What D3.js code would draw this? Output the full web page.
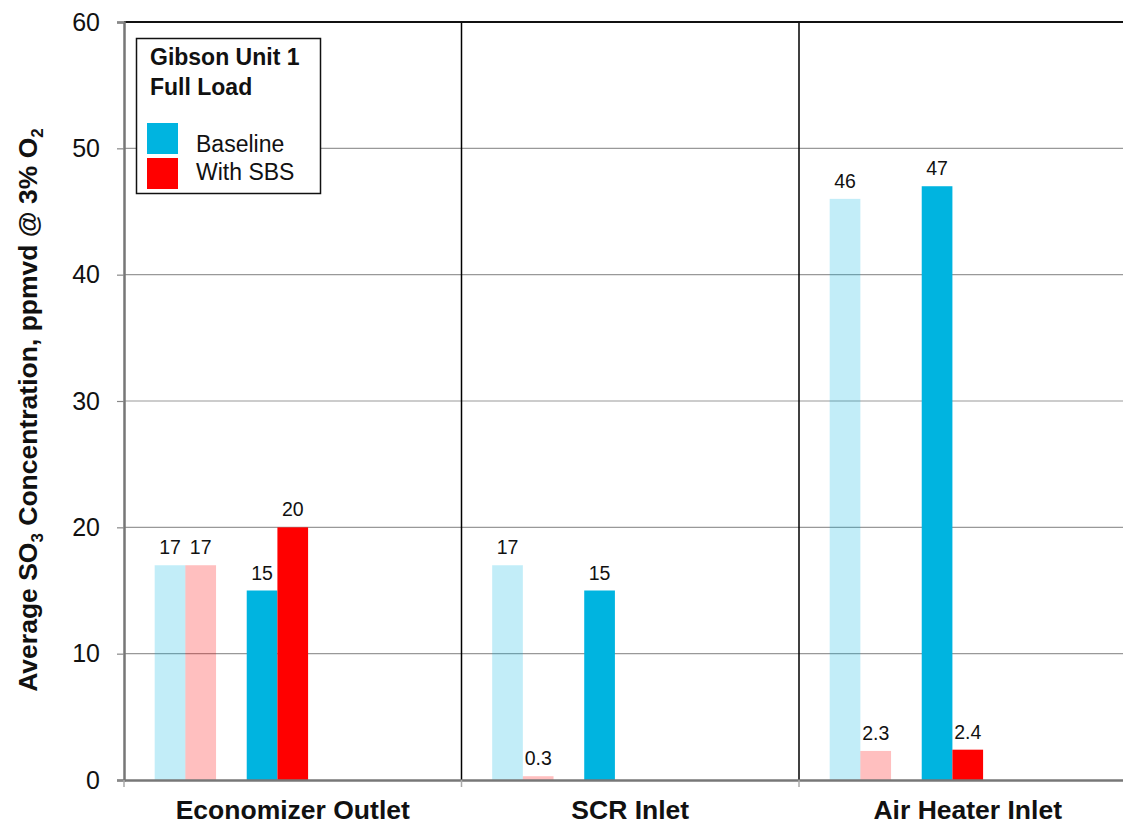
<!DOCTYPE html>
<html><head><meta charset="utf-8">
<script src="https://cdn.jsdelivr.net/npm/d3@7"></script>
<style>body{margin:0;background:#fff}svg{display:block}text{font-family:Arial,"Liberation Sans",sans-serif}</style>
</head><body>
<svg id="c" width="1123" height="825"></svg>
<script>
const categories = ["Economizer Outlet", "SCR Inlet", "Air Heater Inlet"];
const baselinePrev = [17, 17, 46];
const sbsPrev = [17, 0.3, 2.3];
const baseline = [15, 15, 47];
const withSBS = [20, null, 2.4];
const yTicks = [0, 10, 20, 30, 40, 50, 60];
const legendTitle = ["Gibson Unit 1", "Full Load"];
const legendItems = ["Baseline", "With SBS"];

const BLUE = "#00B4E0", RED = "#FF0000";
const series = [
  {key: "bp", values: baselinePrev, color: BLUE, op: 0.24},
  {key: "sp", values: sbsPrev, color: RED, op: 0.25},
  {key: "gap", values: [null, null, null]},
  {key: "b", values: baseline, color: BLUE, op: 1},
  {key: "s", values: withSBS, color: RED, op: 1}
];

const svg = d3.select("#c");
const L = 124, T = 22, B = 780, catW = 337.5, R = L + catW * 3;

const x0 = d3.scaleBand().domain(categories).range([L, R]).padding(0);
const x1 = d3.scaleBand().domain(series.map(s => s.key)).range([catW / 11, catW * 6 / 11]).padding(0);
const y = d3.scaleLinear().domain([0, 60]).range([B, T]);

// gridlines
svg.append("g").selectAll("line").data(yTicks.filter(t => t > 0 && t < 60)).join("line")
  .attr("x1", L).attr("x2", R).attr("y1", d => y(d)).attr("y2", d => y(d))
  .attr("stroke", "#999").attr("stroke-width", 1.2);

// bars
const g = svg.append("g");
series.filter(s => s.color).forEach(s => {
  categories.forEach((c, i) => {
    const v = s.values[i];
    if (v == null) return;
    const bx = x0(c) + x1(s.key);
    g.append("rect").attr("x", bx).attr("width", x1.bandwidth())
      .attr("y", y(v)).attr("height", y(0) - y(v))
      .attr("fill", s.color).attr("fill-opacity", s.op);
    g.append("text").attr("x", bx + x1.bandwidth() / 2).attr("y", y(v) - 11)
      .attr("text-anchor", "middle").attr("font-size", 19.5).attr("fill", "#111").text(v);
  });
});

// category dividers
svg.append("g").selectAll("line").data(categories.slice(1)).join("line")
  .attr("x1", d => x0(d)).attr("x2", d => x0(d)).attr("y1", T).attr("y2", B)
  .attr("stroke", "#000").attr("stroke-width", 1.5);

// top border
svg.append("line").attr("x1", L).attr("x2", R).attr("y1", T).attr("y2", T)
  .attr("stroke", "#111").attr("stroke-width", 2);

// y axis
const yAxis = d3.axisLeft(y).tickValues(yTicks).tickSize(7).tickPadding(17);
const ya = svg.append("g").attr("transform", `translate(${L},0)`).call(yAxis);
ya.select(".domain").attr("stroke", "#777").attr("stroke-width", 2.5);
ya.selectAll(".tick line").attr("stroke", "#888").attr("stroke-width", 1.2);
ya.selectAll(".tick text").attr("font-size", 25).attr("fill", "#111").attr("font-family", "Arial, Liberation Sans, sans-serif");

// x axis
const xa = svg.append("g").attr("transform", `translate(0,${B})`)
  .call(d3.axisBottom(x0).tickSize(0).tickPadding(0).tickFormat(""));
xa.select(".domain").attr("stroke", "#777").attr("stroke-width", 2.5);
svg.append("g").selectAll("line").data(categories.map(c => x0(c))).join("line")
  .attr("x1", d => d).attr("x2", d => d).attr("y1", B).attr("y2", B + 7)
  .attr("stroke", "#aaa").attr("stroke-width", 1.5);
svg.append("g").selectAll("text").data(categories).join("text")
  .attr("x", d => x0(d) + x0.bandwidth() / 2)
  .attr("y", 819).attr("text-anchor", "middle").attr("font-size", 26.5).attr("font-weight", "bold")
  .attr("fill", "#111").text(d => d);

// y title
const yt = svg.append("text").attr("transform", "translate(37,410) rotate(-90)")
  .attr("text-anchor", "middle").attr("font-size", 26.5).attr("font-weight", "bold").attr("fill", "#111");
yt.append("tspan").text("Average SO");
yt.append("tspan").attr("font-size", 17).attr("dy", 6).text("3");
yt.append("tspan").attr("dy", -6).text(" Concentration, ppmvd @ 3% O");
yt.append("tspan").attr("font-size", 17).attr("dy", 6).text("2");

// legend
const lg = svg.append("g");
lg.append("rect").attr("x", 136.5).attr("y", 38.5).attr("width", 184).attr("height", 155)
  .attr("fill", "#fff").attr("stroke", "#111").attr("stroke-width", 1.5);
legendTitle.forEach((t, i) => lg.append("text").attr("x", 150).attr("y", 65 + i * 30)
  .attr("font-size", 23).attr("font-weight", "bold").attr("fill", "#111").text(t));
[BLUE, RED].forEach((c, i) => {
  lg.append("rect").attr("x", 147).attr("y", 123 + i * 35).attr("width", 31).attr("height", 31).attr("fill", c);
  lg.append("text").attr("x", 196).attr("y", 152 + i * 27.5).attr("font-size", 23).attr("fill", "#111").text(legendItems[i]);
});
</script>
</body></html>
